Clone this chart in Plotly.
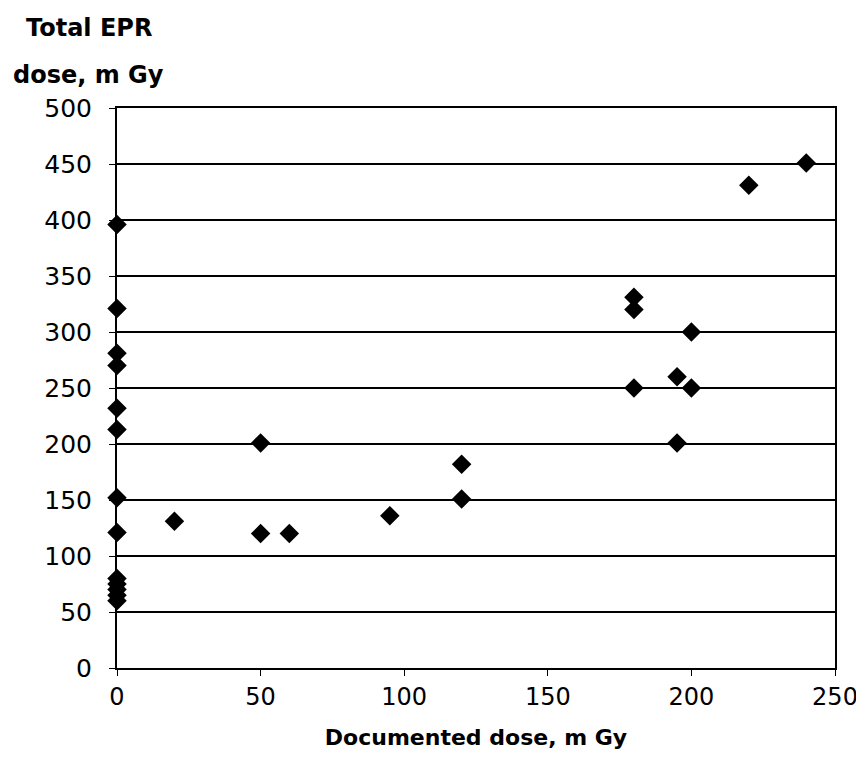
import plotly.graph_objects as go

documented = [0, 0, 0, 0, 0, 0, 0, 0, 0, 0, 0, 0, 0,
              20, 50, 50, 60, 95, 120, 120,
              180, 180, 180, 195, 195, 200, 200, 220, 240]
epr = [396, 321, 281, 270, 232, 213, 152, 121, 80, 75, 70, 65, 60,
       131, 201, 120, 120, 136, 182, 151,
       331, 320, 250, 260, 201, 300, 250, 431, 451]

x_ticks = [0, 50, 100, 150, 200, 250]
y_ticks = [0, 50, 100, 150, 200, 250, 300, 350, 400, 450, 500]

fig = go.Figure()
fig.add_trace(go.Scatter(
    x=documented, y=epr, mode="markers",
    marker=dict(symbol="diamond", size=15, color="black"),
    showlegend=False, cliponaxis=False,
))

font = "DejaVu Sans, sans-serif"
fig.update_layout(
    width=856, height=760,
    margin=dict(l=109, r=29, t=100, b=100),
    paper_bgcolor="white", plot_bgcolor="white",
    font=dict(family=font, size=24, color="black"),
    xaxis=dict(range=[0, 250], tickvals=x_ticks, showgrid=False, automargin=False,
               showline=True, linecolor="black", linewidth=2, mirror=True,
               ticks="outside", ticklen=6, tickcolor="black", zeroline=False,
               tickfont=dict(size=24), ticklabeloverflow="allow",
               title=dict(text="<b>Documented dose, m Gy</b>", standoff=20,
                          font=dict(size=22))),
    yaxis=dict(range=[0, 500], tickvals=y_ticks, showgrid=True, automargin=False,
               gridcolor="black", gridwidth=1.5,
               showline=True, linecolor="black", linewidth=2, mirror=True,
               ticks="outside", ticklen=6, tickcolor="black", zeroline=False,
               ticklabelstandoff=12, tickfont=dict(size=25)),
    annotations=[
        dict(text="<b>Total EPR</b>", xref="paper", yref="paper",
             x=-0.039, y=1.0, yshift=80, xanchor="center", yanchor="middle",
             showarrow=False, font=dict(size=24)),
        dict(text="<b>dose, m Gy</b>", xref="paper", yref="paper",
             x=-0.039, y=1.0, yshift=33, xanchor="center", yanchor="middle",
             showarrow=False, font=dict(size=24)),
    ],
)
fig.write_html("out.html")
